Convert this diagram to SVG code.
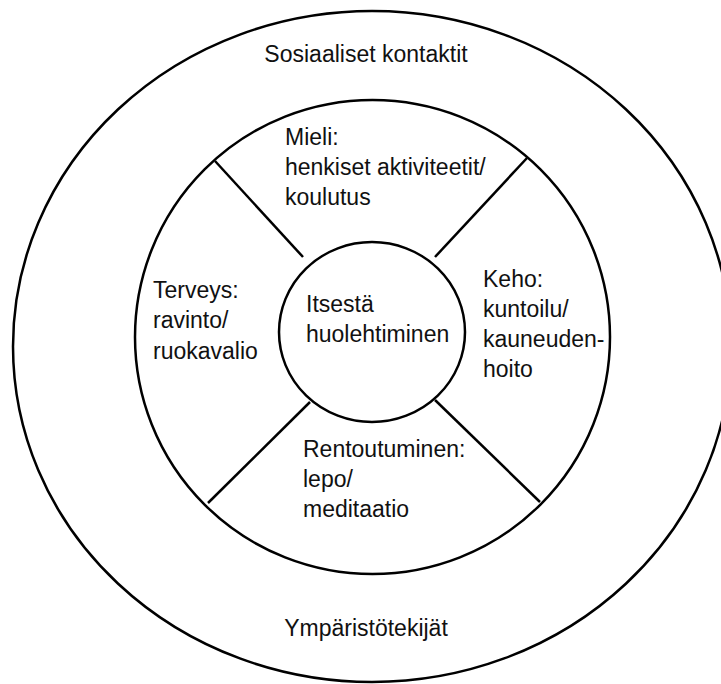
<svg xmlns="http://www.w3.org/2000/svg" width="721" height="684" viewBox="0 0 721 684">
  <style>
    .ring { fill: none; stroke: #000; stroke-width: 2.5; }
    .div { stroke: #000; stroke-width: 2.5; }
    text { font-family: "Liberation Sans", Arial, sans-serif; font-size: 23px; fill: #111; }
  </style>
  <rect width="721" height="684" fill="#fff"/>
  <g id="outer-ring">
    <ellipse class="ring" cx="372" cy="346.5" rx="359" ry="335.5"/>
    <text x="366" y="62" text-anchor="middle">Sosiaaliset kontaktit</text>
    <text x="366" y="636" text-anchor="middle">Ympäristötekijät</text>
  </g>
  <g id="inner-ring">
    <ellipse class="ring" cx="372.5" cy="337" rx="237.5" ry="237"/>
  </g>
  <g id="center">
    <ellipse class="ring" cx="372" cy="332" rx="93" ry="90"/>
    <text x="306" y="312">Itsestä</text>
    <text x="306" y="342">huolehtiminen</text>
  </g>
  <g id="mieli">
    <text x="285" y="145">Mieli:</text>
    <text x="285" y="175">henkiset aktiviteetit/</text>
    <text x="285" y="205">koulutus</text>
  </g>
  <g id="keho">
    <text x="483" y="287">Keho:</text>
    <text x="483" y="317">kuntoilu/</text>
    <text x="483" y="347">kauneuden-</text>
    <text x="483" y="377">hoito</text>
  </g>
  <g id="terveys">
    <text x="153" y="298">Terveys:</text>
    <text x="153" y="328">ravinto/</text>
    <text x="153" y="359">ruokavalio</text>
  </g>
  <g id="rentoutuminen">
    <text x="303" y="457">Rentoutuminen:</text>
    <text x="303" y="487">lepo/</text>
    <text x="303" y="517">meditaatio</text>
  </g>
  <g id="connectors">
    <line class="div" x1="215" y1="161" x2="303" y2="257"/>
    <line class="div" x1="527" y1="158" x2="435" y2="257"/>
    <line class="div" x1="310" y1="402" x2="208" y2="503"/>
    <line class="div" x1="435" y1="400" x2="540" y2="502"/>
  </g>
</svg>
